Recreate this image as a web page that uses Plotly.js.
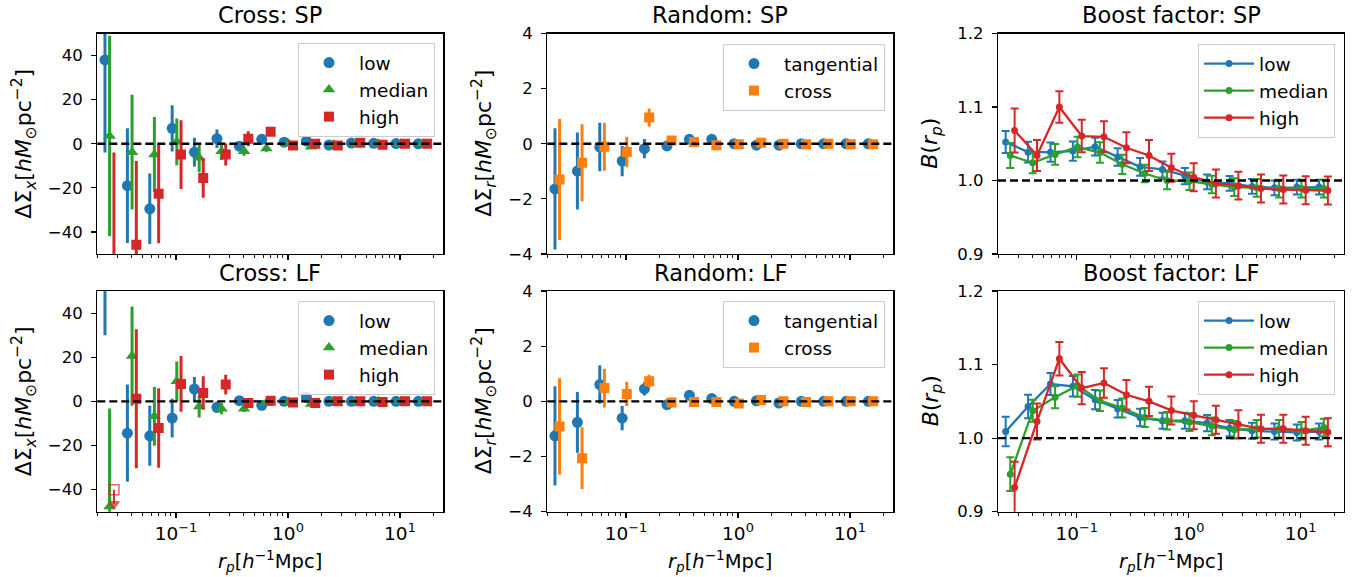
<!DOCTYPE html>
<html>
<head>
<meta charset="utf-8">
<script src="https://cdn.plot.ly/plotly-3.0.1.min.js"></script>
<style>html,body{margin:0;padding:0;background:#fff;}#chart{width:1363px;height:577px;}</style>
</head>
<body>
<div id="chart"></div>
<script>
// ---- radial bins (h^-1 Mpc), one array per plotted offset ----
const rpLow  = [0.0232, 0.0368, 0.0583, 0.0924, 0.146, 0.232, 0.368, 0.583, 0.924, 1.46, 2.32, 3.68, 5.83, 9.24, 14.6];
const rpMid  = [0.0255, 0.0405, 0.0641, 0.1016, 0.161, 0.255, 0.405, 0.641, 1.016, 1.61, 2.55, 4.05, 6.41, 10.16, 16.1];
const rpHigh = [0.0279, 0.0442, 0.0700, 0.1109, 0.175, 0.278, 0.442, 0.700, 1.109, 1.75, 2.78, 4.42, 7.00, 11.09, 17.5];

// ---- Cross: SP ----
const crossLowSP     = [38, -19, -29.5, 7, -3.8, 2.3, -1.1, 2, 0.7, 1.2, -0.6, 0.3, 0.2, 0.1, 0];
const crossLowSPErr  = [42, 26, 16, 10.5, 6.5, 4.2, 2, 1.5, 1, 0.8, 0.6, 0.5, 0.4, 0.3, 0.3];
const crossMidSP     = [3.5, -3.8, -4.9, 0.9, -6.4, -3.4, -3.4, -2.1, 0, -1.4, -0.3, 0, 0, 0, 0];
const crossMidSPErr  = [45.5, 26, 17, 10.6, 6.5, 4, 2, 1.5, 1, 0.8, 0.6, 0.5, 0.4, 0.3, 0.3];
const crossHighSP    = [-58, -45.8, -22.7, -4.9, -15.5, -4.9, 2.3, 5.4, -0.8, 0, -0.8, 0.5, -0.5, 0, 0];
const crossHighSPErr = [54, 38, 22.4, 15.6, 9, 5, 3.4, 1.5, 1, 0.8, 0.6, 0.5, 0.4, 0.3, 0.3];

// ---- Cross: LF ----
const crossLowLF     = [62, -14.4, -15.6, -7.6, 5.6, -2.7, 0.3, -1.8, 0, 1.8, 0, 0, 0, 0, 0];
const crossLowLFErr  = [32, 22, 13.6, 8.8, 5.4, 2.5, 1.5, 1.2, 1, 0.8, 0.6, 0.5, 0.4, 0.3, 0.3];
const crossMidLF     = [-47.7, 20.5, -6.8, 9.1, -2.3, -3.3, -3.3, -0.8, -0.3, -1.2, 0, 0, 0, 0, 0];
const crossMidLFErr  = [44.5, 22.5, 13.3, 9, 5, 2.5, 1.5, 1.2, 1, 0.8, 0.6, 0.5, 0.4, 0.3, 0.3];
const crossHighLF    = [null, 1.2, -12.1, 7.9, 3.8, 7.6, -0.8, 0.3, -0.5, -0.8, 0, 0, -0.3, 0, 0];
const crossHighLFErr = [0, 31.5, 18, 12.6, 7.6, 4.5, 1.5, 1.2, 1, 0.8, 0.6, 0.5, 0.4, 0.3, 0.3];
// upper limit on the first "high" LF bin (open square + arrow)
const highLimitX = [0.0279, 0.0279];
const highLimitY = [-40, -46.5];

// ---- Random: SP ----
const tanSP       = [-1.64, -0.99, -0.12, -0.63, -0.18, -0.08, 0.16, 0.16, 0, -0.05, -0.05, 0, 0, 0, 0];
const tanSPErr    = [2.2, 1.4, 0.88, 0.55, 0.35, 0.1, 0.06, 0.05, 0.04, 0.03, 0.03, 0.02, 0.02, 0.02, 0.02];
const crsSP       = [-1.3, -0.69, -0.11, -0.3, 0.95, 0.12, 0.06, -0.05, -0.02, 0.04, 0, -0.02, 0, -0.02, -0.02];
const crsSPErr    = [2.2, 1.4, 0.87, 0.55, 0.33, 0.1, 0.06, 0.05, 0.04, 0.03, 0.03, 0.02, 0.02, 0.02, 0.02];

// ---- Random: LF ----
const tanLF       = [-1.25, -0.76, 0.61, -0.61, 0.45, -0.12, 0.22, 0.1, 0, 0.02, -0.06, 0, 0, 0, 0];
const tanLFErr    = [1.8, 1.1, 0.7, 0.44, 0.24, 0.08, 0.06, 0.05, 0.04, 0.03, 0.03, 0.02, 0.02, 0.02, 0.02];
const crsLF       = [-0.91, -2.06, 0.48, 0.27, 0.73, -0.04, -0.02, -0.02, -0.08, 0.05, 0, -0.02, 0, 0, 0];
const crsLFErr    = [1.75, 1.12, 0.7, 0.44, 0.23, 0.08, 0.06, 0.05, 0.04, 0.03, 0.03, 0.02, 0.02, 0.02, 0.02];

// ---- Boost factor: SP ----
const boostLowSP     = [1.0523, 1.0386, 1.0386, 1.04, 1.046, 1.032, 1.0186, 1.015, 1.006, 0.998, 0.996, 0.992, 0.99, 0.991, 0.991];
const boostLowSPErr  = [0.015, 0.014, 0.013, 0.013, 0.012, 0.012, 0.012, 0.011, 0.011, 0.01, 0.01, 0.01, 0.01, 0.01, 0.01];
const boostMidSP     = [1.034, 1.024, 1.0355, 1.0455, 1.038, 1.022, 1.0095, 1.0, 0.999, 0.9945, 0.991, 0.99, 0.989, 0.989, 0.989];
const boostMidSPErr  = [0.017, 0.014, 0.014, 0.014, 0.014, 0.013, 0.012, 0.012, 0.012, 0.012, 0.012, 0.012, 0.012, 0.012, 0.012];
const boostHighSP    = [1.068, 1.034, 1.1, 1.0605, 1.0595, 1.0445, 1.034, 1.0173, 1.0045, 0.996, 0.993, 0.989, 0.9877, 0.9868, 0.9864];
const boostHighSPErr = [0.03, 0.021, 0.0215, 0.022, 0.021, 0.021, 0.021, 0.019, 0.019, 0.019, 0.019, 0.019, 0.019, 0.019, 0.019];

// ---- Boost factor: LF ----
const boostLowLF     = [1.009, 1.043, 1.0736, 1.0705, 1.0523, 1.04, 1.028, 1.0236, 1.0236, 1.0205, 1.0136, 1.01, 1.009, 1.0077, 1.009];
const boostLowLFErr  = [0.02, 0.016, 0.015, 0.014, 0.013, 0.012, 0.012, 0.011, 0.011, 0.011, 0.011, 0.011, 0.011, 0.011, 0.011];
const boostMidLF     = [0.951, 1.0373, 1.0555, 1.0714, 1.0509, 1.041, 1.028, 1.0236, 1.0218, 1.016, 1.0114, 1.0127, 1.0127, 1.01, 1.0145];
const boostMidLFErr  = [0.023, 0.015, 0.015, 0.015, 0.014, 0.013, 0.013, 0.012, 0.012, 0.012, 0.012, 0.012, 0.012, 0.012, 0.012];
const boostHighLF    = [0.933, 1.0227, 1.108, 1.068, 1.075, 1.059, 1.05, 1.0377, 1.031, 1.025, 1.019, 1.0127, 1.0127, 1.01, 1.008];
const boostHighLFErr = [0.035, 0.0245, 0.0227, 0.022, 0.02, 0.02, 0.02, 0.019, 0.019, 0.019, 0.019, 0.019, 0.019, 0.019, 0.019];

// ---- labels ----
const panelTitles = ['Cross: SP', 'Random: SP', 'Boost factor: SP', 'Cross: LF', 'Random: LF', 'Boost factor: LF'];
const groupNames = ['low', 'median', 'high'];
const randomNames = ['tangential', 'cross'];
const xTickVals = [0.1, 1, 10];
const xTickText = ['10<sup>−1</sup>', '10<sup>0</sup>', '10<sup>1</sup>'];
const xMinorVals = [0.02,0.03,0.04,0.05,0.06,0.07,0.08,0.09,0.2,0.3,0.4,0.5,0.6,0.7,0.8,0.9,2,3,4,5,6,7,8,9,20];
const crossTickVals = [-40, -20, 0, 20, 40];
const crossTickText = ['−40', '−20', '0', '20', '40'];
const randTickVals = [-4, -2, 0, 2, 4];
const randTickText = ['−4', '−2', '0', '2', '4'];
const boostTickVals = [0.9, 1.0, 1.1, 1.2];
const boostTickText = ['0.9', '1.0', '1.1', '1.2'];

const BLUE = '#1f77b4', ORANGE = '#ff7f0e', GREEN = '#2ca02c', RED = '#d62728';
const FONT = 'DejaVu Sans, Liberation Sans, sans-serif';

function pts(x, y, err, color, symbol, size, name, ax, leg, showleg) {
  return {
    type: 'scatter', mode: 'markers', x: x, y: y, name: name,
    xaxis: 'x' + ax, yaxis: 'y' + ax, legend: leg, showlegend: showleg,
    marker: {color: color, symbol: symbol, size: size, line: {width: 0}},
    error_y: {type: 'data', array: err, visible: true, color: color, thickness: 3, width: 0},
    cliponaxis: true
  };
}
function lineTr(x, y, err, color, name, ax, leg) {
  return {
    type: 'scatter', mode: 'lines+markers', x: x, y: y, name: name,
    xaxis: 'x' + ax, yaxis: 'y' + ax, legend: leg,
    line: {color: color, width: 2.3},
    marker: {color: color, size: 7, symbol: 'circle'},
    error_y: {type: 'data', array: err, visible: true, color: color, thickness: 2, width: 4}
  };
}

const traces = [
  pts(rpLow, crossLowSP, crossLowSPErr, BLUE, 'circle', 11, groupNames[0], '', 'legend', true),
  pts(rpMid, crossMidSP, crossMidSPErr, GREEN, 'triangle-up', 11, groupNames[1], '', 'legend', true),
  pts(rpHigh, crossHighSP, crossHighSPErr, RED, 'square', 10, groupNames[2], '', 'legend', true),

  pts(rpLow, tanSP, tanSPErr, BLUE, 'circle', 11, randomNames[0], '2', 'legend2', true),
  pts(rpMid, crsSP, crsSPErr, ORANGE, 'square', 10, randomNames[1], '2', 'legend2', true),

  lineTr(rpLow, boostLowSP, boostLowSPErr, BLUE, groupNames[0], '3', 'legend3'),
  lineTr(rpMid, boostMidSP, boostMidSPErr, GREEN, groupNames[1], '3', 'legend3'),
  lineTr(rpHigh, boostHighSP, boostHighSPErr, RED, groupNames[2], '3', 'legend3'),

  pts(rpLow, crossLowLF, crossLowLFErr, BLUE, 'circle', 11, groupNames[0], '4', 'legend4', true),
  pts(rpMid, crossMidLF, crossMidLFErr, GREEN, 'triangle-up', 11, groupNames[1], '4', 'legend4', true),
  pts(rpHigh, crossHighLF, crossHighLFErr, RED, 'square', 10, groupNames[2], '4', 'legend4', true),
  {
    type: 'scatter', mode: 'lines+markers', x: highLimitX, y: highLimitY, xaxis: 'x4', yaxis: 'y4',
    showlegend: false, line: {color: RED, width: 2},
    marker: {color: RED, symbol: ['square-open', 'triangle-down'], size: [10, 9], line: {color: RED, width: 1.5}}
  },

  pts(rpLow, tanLF, tanLFErr, BLUE, 'circle', 11, randomNames[0], '5', 'legend5', true),
  pts(rpMid, crsLF, crsLFErr, ORANGE, 'square', 10, randomNames[1], '5', 'legend5', true),

  lineTr(rpLow, boostLowLF, boostLowLFErr, BLUE, groupNames[0], '6', 'legend6'),
  lineTr(rpMid, boostMidLF, boostMidLFErr, GREEN, groupNames[1], '6', 'legend6'),
  lineTr(rpHigh, boostHighLF, boostHighLFErr, RED, groupNames[2], '6', 'legend6')
];

const W = 1363, H = 577;
const colPx = [[97.3, 443.3], [547.3, 893.3], [998, 1344]];
const rowPx = [[33.5, 254], [291, 511.7]];
const xdom = c => [colPx[c][0] / W, colPx[c][1] / W];
const ydom = r => [1 - rowPx[r][1] / H, 1 - rowPx[r][0] / H];

function xax(c, r, anchor) {
  return {
    type: 'log', domain: xdom(c), range: [-1.703, 1.387], anchor: anchor,
    showline: true, linecolor: 'black', linewidth: 1.3, mirror: true,
    ticks: 'outside', ticklen: 5, tickwidth: 1.1, tickcolor: 'black',
    tickmode: 'array', tickvals: xTickVals, ticktext: xTickText,
    showticklabels: r === 1, showgrid: false, zeroline: false,
    tickfont: {family: FONT, size: 18.5, color: 'black'},
    minor: {tickmode: 'array', tickvals: xMinorVals, ticks: 'outside', ticklen: 3, tickwidth: 0.9, tickcolor: 'black', showgrid: false}
  };
}
function yax(c, r, anchor, range, tv, tt) {
  return {
    domain: ydom(r), range: range, anchor: anchor,
    showline: true, linecolor: 'black', linewidth: 1.3, mirror: true,
    ticks: 'outside', ticklen: 5, tickwidth: 1.1, tickcolor: 'black',
    tickmode: 'array', tickvals: tv, ticktext: tt, ticklabelstandoff: 5,
    showgrid: false, zeroline: false,
    tickfont: {family: FONT, size: 16.5, color: 'black'}
  };
}

function legendAt(rightPx, topPx) {
  return {
    x: rightPx / W, y: 1 - topPx / H, xanchor: 'right', yanchor: 'top',
    bgcolor: 'rgba(255,255,255,0.8)', bordercolor: '#cccccc', borderwidth: 1,
    font: {family: FONT, size: 18.5, color: 'black'}, itemwidth: 50, tracegroupgap: 0
  };
}

const yLabelCross = 'ΔΣ<sub><i>x</i></sub>[<i>hM</i><sub>⊙</sub>pc<sup>−2</sup>]';
const yLabelRand = 'ΔΣ<sub><i>r</i></sub>[<i>hM</i><sub>⊙</sub>pc<sup>−2</sup>]';
const yLabelBoost = '<i>B</i>(<i>r<sub>p</sub></i>)';
const xLabel = '<i>r<sub>p</sub></i>[<i>h</i><sup>−1</sup>Mpc]';

const annotations = [];
const titleY = [15, 273];
for (let r = 0; r < 2; r++) {
  for (let c = 0; c < 3; c++) {
    annotations.push({
      text: panelTitles[r * 3 + c], xref: 'paper', yref: 'paper',
      x: (colPx[c][0] + colPx[c][1]) / 2 / W, y: 1 - titleY[r] / H,
      xanchor: 'center', yanchor: 'middle', showarrow: false,
      font: {family: FONT, size: 22.5, color: 'black'}
    });
  }
  const yc = 1 - ((rowPx[r][0] + rowPx[r][1]) / 2) / H;
  const ylabs = [[yLabelCross, 24], [yLabelRand, 484], [yLabelBoost, 932]];
  ylabs.forEach(([t, px]) => annotations.push({
    text: t, xref: 'paper', yref: 'paper', x: px / W, y: yc, textangle: -90,
    xanchor: 'center', yanchor: 'middle', showarrow: false,
    font: {family: FONT, size: 22, color: 'black'}
  }));
}
for (let c = 0; c < 3; c++) {
  annotations.push({
    text: xLabel, xref: 'paper', yref: 'paper',
    x: (colPx[c][0] + colPx[c][1]) / 2 / W, y: 1 - 561 / H,
    xanchor: 'center', yanchor: 'middle', showarrow: false,
    font: {family: FONT, size: 19.5, color: 'black'}
  });
}

const refLines = [['', 0], ['2', 0], ['3', 1], ['4', 0], ['5', 0], ['6', 1]];
const shapes = refLines.map(([ax, v]) => ({
  type: 'line', xref: 'x' + ax + ' domain', yref: 'y' + ax, x0: 0, x1: 1, y0: v, y1: v,
  line: {color: 'black', width: 2.3, dash: '8px,4px'}, layer: 'above'
}));

const layout = {
  width: W, height: H, margin: {l: 0, r: 0, t: 0, b: 0},
  paper_bgcolor: 'white', plot_bgcolor: 'white',
  font: {family: FONT, color: 'black'},
  xaxis: xax(0, 0, 'y'), yaxis: yax(0, 0, 'x', [-50, 50], crossTickVals, crossTickText),
  xaxis2: xax(1, 0, 'y2'), yaxis2: yax(1, 0, 'x2', [-4, 4], randTickVals, randTickText),
  xaxis3: xax(2, 0, 'y3'), yaxis3: yax(2, 0, 'x3', [0.9, 1.2], boostTickVals, boostTickText),
  xaxis4: xax(0, 1, 'y4'), yaxis4: yax(0, 1, 'x4', [-50, 50], crossTickVals, crossTickText),
  xaxis5: xax(1, 1, 'y5'), yaxis5: yax(1, 1, 'x5', [-4, 4], randTickVals, randTickText),
  xaxis6: xax(2, 1, 'y6'), yaxis6: yax(2, 1, 'x6', [0.9, 1.2], boostTickVals, boostTickText),
  legend: legendAt(435, 43), legend2: legendAt(885, 44), legend3: legendAt(1335, 44),
  legend4: legendAt(435, 301), legend5: legendAt(885, 301), legend6: legendAt(1335, 301),
  annotations: annotations, shapes: shapes, showlegend: true
};

Plotly.newPlot('chart', traces, layout, {displayModeBar: false, staticPlot: true});
</script>
</body>
</html>
